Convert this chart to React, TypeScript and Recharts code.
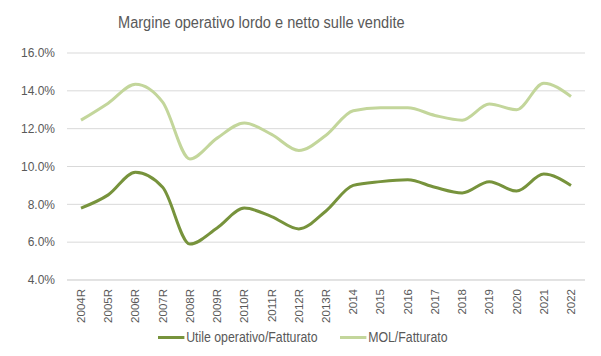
import React from "react";
import { LineChart, Line, CartesianGrid, XAxis, YAxis } from "recharts";

const years = [
  "2004R", "2005R", "2006R", "2007R", "2008R", "2009R", "2010R", "2011R", "2012R", "2013R",
  "2014", "2015", "2016", "2017", "2018", "2019", "2020", "2021", "2022",
];
const utile = [7.8, 8.5, 9.7, 8.9, 5.9, 6.75, 7.8, 7.35, 6.7, 7.65, 9.0, 9.2, 9.3, 8.9, 8.6, 9.2, 8.7, 9.6, 9.0];
const mol = [12.45, 13.35, 14.35, 13.4, 10.4, 11.5, 12.3, 11.7, 10.85, 11.65, 12.95, 13.1, 13.1, 12.7, 12.45, 13.3, 13.0, 14.4, 13.7];
const yTicks = [4, 6, 8, 10, 12, 14, 16];

const DARK = "#77933C";
const LIGHT = "#C3D69B";
const TEXT = "#595959";
const SANS = "'Liberation Sans', Arial, sans-serif";

const rows = years.map((y, i) => ({ year: y, utile: utile[i], mol: mol[i] }));

const XTick = (props: any) => {
  const { x, y, payload } = props;
  const ty = y + 1;
  return (
    <text
      x={x}
      y={ty}
      transform={`rotate(-90, ${x}, ${ty})`}
      textAnchor="end"
      dy="0.35em"
      fontSize={11.5}
      fill={TEXT}
      fontFamily={SANS}
    >
      {payload.value}
    </text>
  );
};

// legend is plain html under the chart, narrowed to look like the condensed office font
const legendItems = [
  { label: "Utile operativo/Fatturato", color: DARK, left: 158 },
  { label: "MOL/Fatturato", color: LIGHT, left: 340 },
];

export default function App() {
  return (
    <div style={{ position: "relative", width: 601, height: 356, background: "#fff" }}>
      <style>{`body{margin:0;}`}</style>
      <div
        style={{
          position: "absolute",
          top: 14,
          left: 118,
          whiteSpace: "nowrap",
          fontFamily: SANS,
          fontSize: 16,
          lineHeight: "18px",
          color: TEXT,
          transform: "scaleX(0.91)",
          transformOrigin: "0 0",
        }}
      >
        Margine operativo lordo e netto sulle vendite
      </div>
      <LineChart width={601} height={356} data={rows} margin={{ top: 53, right: 16, left: 0, bottom: 30 }}>
        <CartesianGrid vertical={false} stroke="#D9D9D9" />
        <XAxis
          dataKey="year"
          interval={0}
          height={46}
          padding={{ left: 14, right: 14 }}
          tick={<XTick />}
          tickLine={false}
          axisLine={{ stroke: "#D9D9D9" }}
        />
        <YAxis
          width={67}
          domain={[4, 16]}
          ticks={yTicks}
          tickFormatter={(v: number) => `${v.toFixed(1)}%`}
          tick={{ fontSize: 12, fill: TEXT, fontFamily: SANS }}
          axisLine={false}
          tickLine={false}
          tickMargin={6}
        />
        <Line type="monotone" dataKey="utile" stroke={DARK} strokeWidth={3} dot={false} isAnimationActive={false} />
        <Line type="monotone" dataKey="mol" stroke={LIGHT} strokeWidth={3} dot={false} isAnimationActive={false} />
      </LineChart>
      {legendItems.map((it) => (
        <div
          key={it.label}
          style={{
            position: "absolute",
            top: 329,
            left: it.left,
            display: "flex",
            alignItems: "center",
            height: 16,
            whiteSpace: "nowrap",
            fontFamily: SANS,
            fontSize: 14,
            color: TEXT,
            transform: "scaleX(0.88)",
            transformOrigin: "0 50%",
          }}
        >
          <span style={{ width: 30, height: 3, background: it.color, marginRight: 2 }} />
          {it.label}
        </div>
      ))}
    </div>
  );
}
